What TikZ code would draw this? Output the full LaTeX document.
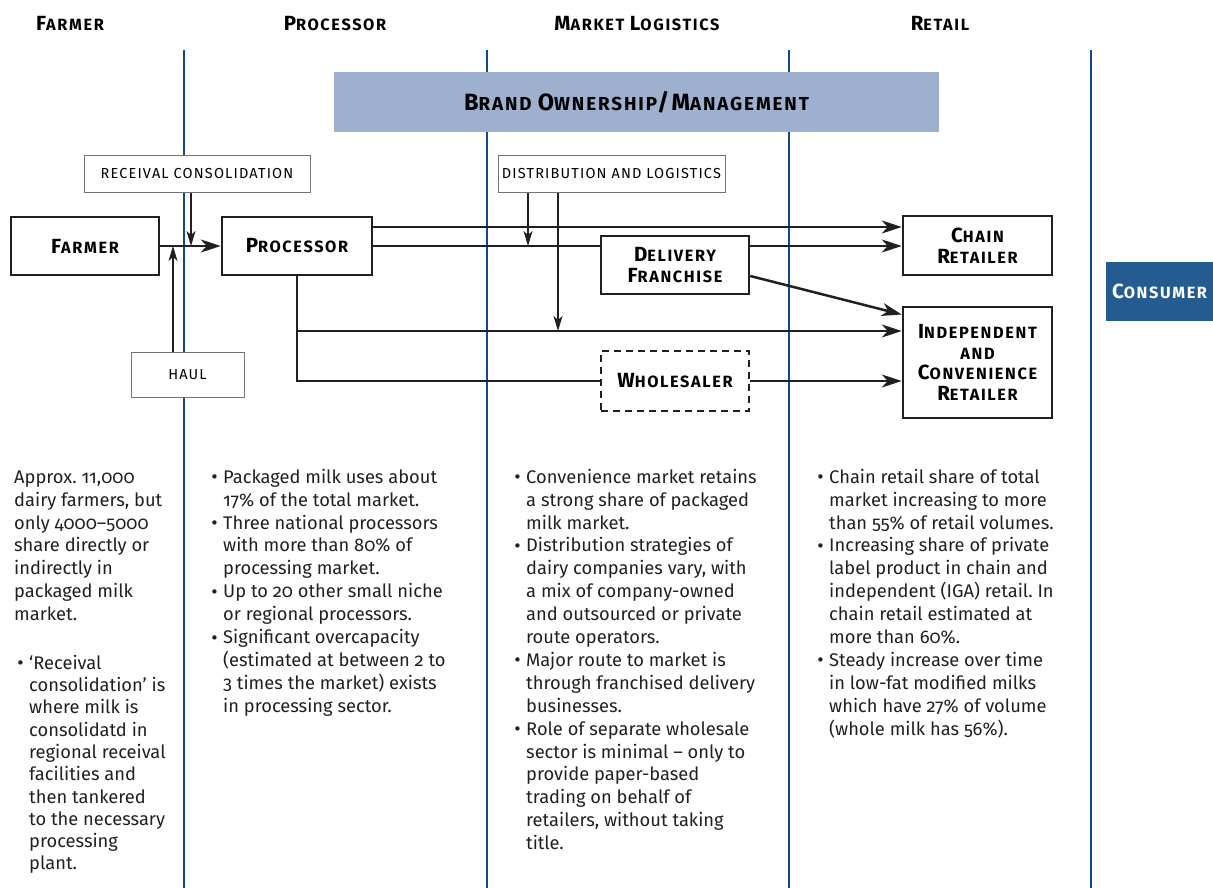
\documentclass[tikz,border=0pt]{standalone}
\usepackage{fontspec}
\setmainfont[Numbers=OldStyle]{Fira Sans}
\newfontfamily\hfont[LetterSpace=10]{Fira Sans}
\newfontfamily\lfont[LetterSpace=8]{Fira Sans}
\newfontfamily\dvfont{DejaVu Sans}
\frenchspacing
\usetikzlibrary{arrows.meta,calc}
\definecolor{lineblue}{RGB}{16,74,142}
\definecolor{brandblue}{RGB}{157,176,206}
\definecolor{consblue}{RGB}{36,92,145}
\definecolor{ink}{RGB}{35,31,32}
\newcommand\hsc[2]{{\fontsize{20.5}{20.5}\selectfont #1}{\fontsize{16.3}{16.3}\selectfont #2}}
\newcommand\bsc[2]{{\fontsize{23.5}{23.5}\selectfont #1}{\fontsize{18.8}{18.8}\selectfont #2}}
\newcommand\bul{\makebox[13pt][l]{\raisebox{0.5pt}{\dvfont\fontsize{15}{15}\selectfont •}}}
\newcommand\ind{\hspace*{13pt}}
\newcommand\fl{\rule{0pt}{15pt}}
\newcommand\boxfont{\hfont\bfseries\fontsize{16.3}{20.5}\selectfont}
\tikzset{
  vline/.style={draw=lineblue, line width=2.5pt},
  head/.style={anchor=base, inner sep=0, font=\hfont\bfseries\fontsize{16.3}{19}\selectfont},
  thickbox/.style={draw=ink, line width=2.5pt, fill=white, inner sep=0, align=center, font=\boxfont},
  labelbox/.style={draw=black!55, line width=1pt, fill=white, inner sep=0, font=\lfont\fontsize{14.5}{16}\selectfont},
  body/.style={anchor=north west, inner sep=0, align=left, text=ink, font=\fontsize{18.3}{22.9}\selectfont},
  arr/.style={draw=ink, line width=2.5pt, -{Stealth[length=20pt,width=13pt,inset=6pt]}},
  pline/.style={draw=ink, line width=2.5pt},
  tarr/.style={draw=ink, line width=1.2pt, -{Stealth[length=15pt,width=9pt,inset=4pt]}},
}
\begin{document}
\begin{tikzpicture}[x=1pt,y=-1pt]
\useasboundingbox (0,0) rectangle (1213,888);
% column dividers
\foreach \xx in {184,487,789,1091} \draw[vline] (\xx,50) -- (\xx,888);
% headers
\node[head] (hF) at (70,31) {\hsc{F}{ARMER}};
\node[head] (hP) at (335,31) {\hsc{P}{ROCESSOR}};
\node[head] (hM) at (637,31) {\hsc{M}{ARKET} \hsc{L}{OGISTICS}};
\node[head] (hR) at (940,31) {\hsc{R}{ETAIL}};
% brand box
\node[fill=brandblue, minimum width=605pt, minimum height=60pt, inner sep=0, font=\hfont\bfseries\fontsize{18.8}{22}\selectfont] (brand) at (636.5,102) {\bsc{B}{RAND} \bsc{O}{WNERSHIP}\bsc{/}{}\bsc{M}{ANAGEMENT}};
% label boxes
\node[labelbox, minimum width=226pt, minimum height=36pt] (rec) at (197,174) {RECEIVAL CONSOLIDATION};
\node[labelbox, minimum width=113pt, minimum height=45pt] (haul) at (187.5,374.5) {HAUL};
\node[labelbox, minimum width=227pt, minimum height=36pt] (dist) at (611.5,174) {DISTRIBUTION AND LOGISTICS};
% main boxes
\node[thickbox, minimum width=148pt, minimum height=58pt] (farmer) at (85,246) {\hsc{F}{ARMER}};
\node[thickbox, minimum width=150pt, minimum height=58pt] (proc) at (297,246) {\hsc{P}{ROCESSOR}};
\node[thickbox, minimum width=148pt, minimum height=58pt] (deliv) at (675,265) {\hsc{D}{ELIVERY}\\\hsc{F}{RANCHISE}};
\node[thickbox, minimum width=149pt, minimum height=59pt] (chain) at (977.5,245.5) {\hsc{C}{HAIN}\\\hsc{R}{ETAILER}};
\node[thickbox, minimum width=149pt, minimum height=111pt] (indep) at (977.5,362.5) {\hsc{I}{NDEPENDENT}\\\hsc{}{AND}\\\hsc{C}{ONVENIENCE}\\\hsc{R}{ETAILER}};
\node[thickbox, dash pattern=on 7pt off 5pt, minimum width=148pt, minimum height=60pt] (whole) at (675,381) {\hsc{W}{HOLESALER}};
\node[fill=consblue, text=white, minimum width=107pt, minimum height=59pt, inner sep=0, font=\hfont\bfseries\fontsize{16.3}{19}\selectfont] (cons) at (1159.5,291.5) {\hsc{C}{ONSUMER}};
% helper coordinates
\coordinate (rcin) at (191,246);
\coordinate (hlin) at (173,246);
\coordinate (d1) at (528,246);
\coordinate (d2) at (558,331);
\coordinate (pm) at (297,331);
\coordinate (pb) at (297,381);
% connectors
\draw[arr] (farmer.east) -- (proc.west);
\draw[tarr] (rec.south -| rcin) -- (rcin);
\draw[tarr] (haul.north -| hlin) -- (hlin);
\draw[arr] ([yshift=19pt]proc.east) -- ([yshift=18.5pt]chain.west);
\draw[pline] (proc.east) -- ([yshift=19pt]deliv.west);
\draw[arr] ([yshift=19pt]deliv.east) -- ([yshift=19pt]deliv.east -| chain.west);
\draw[tarr] (dist.south -| d1) -- (d1);
\draw[tarr] (dist.south -| d2) -- (d2);
\draw[arr] ([yshift=-11pt]deliv.east) -- ([yshift=48pt]indep.west);
\draw[pline] (proc.south) -- (pb) -- (whole.west);
\draw[arr] (pm) -- (pm -| indep.west);
\draw[arr] (whole.east) -- (whole.east -| indep.west);
% body texts
\node[body] (tf1) at (14,468) {\fl Approx. 11,000\\dairy farmers, but\\only 4000–5000\\share directly or\\indirectly in\\packaged milk\\market.};
\node[body, font=\fontsize{18.3}{22.3}\selectfont] (tf2) at (16,654) {\fl\bul‘Receival\\\ind consolidation’ is\\\ind where milk is\\\ind consolidatd in\\\ind regional receival\\\ind facilities and\\\ind then tankered\\\ind to the necessary\\\ind processing\\\ind plant.};
\node[body] (tp) at (210,468) {\fl\bul Packaged milk uses about\\\ind 17\% of the total market.\\\bul Three national processors\\\ind with more than 80\% of\\\ind processing market.\\\bul Up to 20 other small niche\\\ind or regional processors.\\\bul Significant overcapacity\\\ind (estimated at between 2 to\\\ind 3 times the market) exists\\\ind in processing sector.};
\node[body] (tm) at (513,468) {\fl\bul Convenience market retains\\\ind a strong share of packaged\\\ind milk market.\\\bul Distribution strategies of\\\ind dairy companies vary, with\\\ind a mix of company-owned\\\ind and outsourced or private\\\ind route operators.\\\bul Major route to market is\\\ind through franchised delivery\\\ind businesses.\\\bul Role of separate wholesale\\\ind sector is minimal – only to\\\ind provide paper-based\\\ind trading on behalf of\\\ind retailers, without taking\\\ind title.};
\node[body] (tr) at (816,468) {\fl\bul Chain retail share of total\\\ind market increasing to more\\\ind than 55\% of retail volumes.\\\bul Increasing share of private\\\ind label product in chain and\\\ind independent (IGA) retail. In\\\ind chain retail estimated at\\\ind more than 60\%.\\\bul Steady increase over time\\\ind in low-fat modified milks\\\ind which have 27\% of volume\\\ind (whole milk has 56\%).};
\end{tikzpicture}
\end{document}
